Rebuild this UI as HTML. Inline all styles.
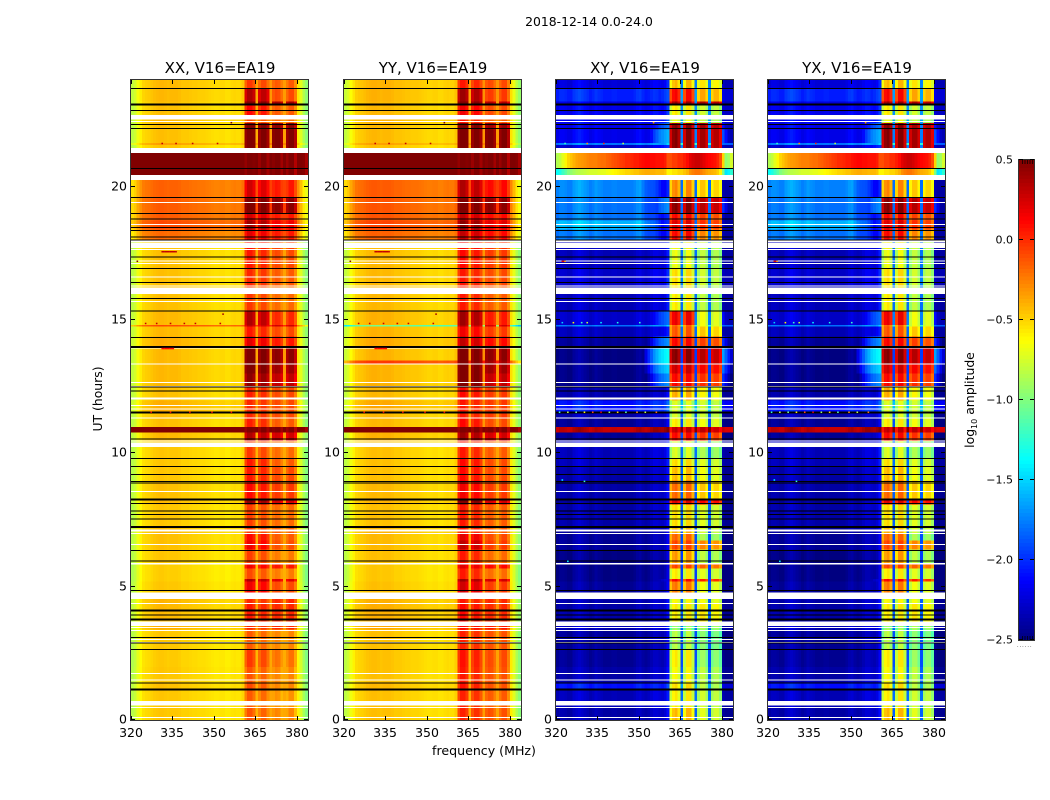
<!DOCTYPE html>
<html lang="en">
<head>
<meta charset="utf-8">
<title>2018-12-14 0.0-24.0</title>
<style>
html,body{margin:0;padding:0;background:#fff;width:1050px;height:800px;overflow:hidden}
svg{display:block}
text{font-family:"DejaVu Sans","Liberation Sans",sans-serif;fill:#000}
</style>
</head>
<body>
<svg id="figure" xmlns="http://www.w3.org/2000/svg" width="1050" height="800" viewBox="0 0 1050 800">
  <text x="589" y="26" text-anchor="middle" font-size="12.4">2018-12-14 0.0-24.0</text>
  <text x="484" y="755" text-anchor="middle" font-size="12.6">frequency (MHz)</text>
  <text x="102" y="399" text-anchor="middle" font-size="12.4" transform="rotate(-90 102 399)">UT (hours)</text>
  <text x="974" y="400" text-anchor="middle" font-size="12.4" transform="rotate(-90 974 400)">log<tspan font-size="8" dy="3">10</tspan><tspan dy="-3"> amplitude</tspan></text>
  <g id="panels"></g>
  <g id="colorbar"></g>
</svg>
<script>
/* ---------- chart data (log10 amplitude) ---------- */
const panelTitles = ["XX, V16=EA19", "YY, V16=EA19", "XY, V16=EA19", "YX, V16=EA19"];
const freqTicks = [320, 335, 350, 365, 380];
const hourTicks = [0, 5, 10, 15, 20];
const colorTicks = [0.5, 0, -0.5, -1, -1.5, -2, -2.5];
const colorTickLabels = ["0.5", "0.0", "\u22120.5", "\u22121.0", "\u22121.5", "\u22122.0", "\u22122.5"];

const segmentStart = [
  0, 0.5, 1.15, 1.4, 2, 2.65, 3.4, 3.7, 4.4, 4.8,
  5.2, 5.3, 5.7, 5.85, 6.4, 6.75, 7, 7.2, 8.1, 8.3,
  9, 9.5, 9.8, 10.5, 10.8, 11, 11.35, 11.55, 12, 12.5,
  13, 13.35, 13.5, 14, 14.4, 14.76, 14.83, 15.35, 16.3, 16.95,
  17.7, 17.95, 18.4, 18.75, 19, 19.6, 20.44, 20.69, 21.27, 21.58,
  21.65, 22.15, 22.4, 22.7, 23.05, 23.2, 23.7
];

const xxLow = [
  -.42,-.42,-.40,-.42,-.43,-.42,-.35,-.38,-.37,-.42,
  -.44,-.44,-.44,-.42,-.40,-.40,-.38,-.42,-.38,-.40,
  -.42,-.42,-.42,-.38,.95,-.40,-.40,-.35,-.40,-.38,
  -.38,-.38,-.38,-.35,-.38,-.05,-.38,-.40,-.40,-.40,
  -.42,-.15,-.05,-.10,-.10,-.12,.95,.95,-.42,-.30,
  -.40,-.40,-.38,-.40,-.40,-.38,-.38
];
const xxHighA = [
  -.18,-.20,-.15,-.18,-.10,-.20,-.05,.00,-.05,.10,
  .30,-.15,.10,-.12,.10,.05,-.10,-.12,.40,.05,
  .00,.00,-.10,.30,.50,-.02,-.05,-.05,-.02,.40,
  .50,.50,.50,.15,.00,.25,.30,-.10,-.05,.00,
  .05,.15,.35,.20,.50,.20,.50,.50,.50,.50,
  .50,.50,-.15,.05,.50,.30,-.10
];
const xxHighB = [
  -.28,-.32,-.28,-.28,-.22,-.28,.00,.00,.00,-.10,
  .20,-.25,.05,-.25,-.12,-.15,-.15,-.20,.25,-.05,
  -.10,-.15,-.20,.25,.50,-.15,-.10,-.10,-.10,.30,
  .40,.45,.45,.05,-.10,.25,.00,-.20,-.15,-.10,
  -.05,.05,.15,.05,.45,.05,.50,.50,.50,.50,
  .50,.45,-.20,-.15,.40,-.10,-.15
];
const yyLow = [
  -.40,-.40,-.38,-.40,-.40,-.40,-.33,-.35,-.35,-.40,
  -.42,-.42,-.42,-.40,-.38,-.38,-.36,-.40,-.36,-.38,
  -.40,-.40,-.40,-.36,.95,-.38,-.38,-.33,-.38,-.36,
  -.36,.00,-.36,-.33,-.36,-1.0,-.36,-.38,-.38,-.38,
  -.40,-.12,-.03,-.08,-.08,-.10,.95,.95,-.40,-.30,
  -.38,-.38,-.36,-.38,-.38,-.36,-.36
];
const yyHighA = [
  -.03,-.03,.02,.00,.02,-.03,.05,.05,.00,.20,
  .35,.00,.15,.00,.25,.15,.00,.00,.50,.10,
  .05,.05,.00,.35,.50,.05,.00,.00,.05,.50,
  .50,.50,.50,.25,.10,.30,.35,.00,.00,.05,
  .10,.25,.40,.25,.50,.30,.50,.50,.50,.50,
  .50,.50,.00,.10,.50,.35,.00
];
const yyHighB = [
  -.12,-.15,-.12,-.12,-.10,-.12,.05,.00,.00,-.05,
  .25,-.20,.10,-.20,-.05,-.10,-.15,-.15,.25,-.05,
  -.10,-.10,-.15,.25,.50,-.10,-.05,-.05,-.05,.30,
  .40,.40,.45,.10,-.05,.25,.05,-.15,-.10,-.05,
  .00,.10,.20,.10,.45,.10,.50,.50,.50,.50,
  .50,.40,-.15,-.10,.35,-.05,-.10
];
const xyLow = [
  -2.4,-2.35,-2.2,-2.4,-2.45,-2.45,-2.35,-2.4,-2.4,-2.45,
  -2.5,-2.5,-2.5,-2.5,-2.45,-2.45,-2.45,-2.4,-2.45,-2.4,
  -2.4,-2.35,-2.35,-2.45,.28,-2.45,-2.4,-2.1,-2.4,-2.5,
  -2.5,-2.5,-2.5,-2.45,-2.35,-1.8,-2.3,-2.35,-2.3,-2.35,
  -2.35,-2.35,-2.35,-2.35,-2.35,-2.35,-.5,0,-2.3,-1.8,
  -2.3,-2.3,-2.2,-2.25,-2.3,-2.2,-2.3
];
const crossLeftLift = [
  0,0,.1,0,0,0,0,0,0,0,
  0,0,0,0,0,0,0,0,0,0,
  0,0,0,0,0,0,0,0,0,0,
  0,0,0,0,0,0,0,0,0,0,
  0,.55,.75,.55,.55,.6,0,0,0,0,
  .1,.1,0,.05,.05,.15,.05
];
const xyHighA = [
  -.45,-.6,-.55,-.65,-.6,-.85,-.95,-.6,-.65,-.25,
  .10,-.6,-.1,-.35,-.1,-.2,-.4,-.55,.2,-.2,
  -.45,-.55,-.75,.1,.28,-.6,-.75,-.75,-.4,.1,
  .25,.45,.45,.1,-.15,-.2,.15,-.6,-.55,-.7,
  -.6,.1,.2,.1,.45,-.3,-.1,-.1,.45,.45,
  .45,.45,-.7,-.6,.4,.1,-.45
];
const xyHighB = [
  -.75,-.8,-.85,-.85,-.95,-1.0,-.9,-.6,-.7,-.7,
  .0,-.75,-.2,-.85,-.3,-.9,-.8,-.75,.1,-.5,
  -.7,-.75,-.9,-.05,.28,-.7,-.8,-.8,-.65,-.05,
  .1,.3,.3,-.1,-.5,-.7,-.7,-.85,-.8,-.85,
  -.8,-.3,-.05,-.1,.3,-.5,-.1,-.1,.35,.35,
  .35,.35,-.85,-.8,.35,-.4,-.6
];
const crossBloom = [
  -2.5,-2.5,-2.5,-2.5,-2.5,-2.5,-2.5,-2.5,-2.5,-2.3,
  -2.2,-2.5,-2.3,-2.5,-2.5,-2.5,-2.5,-2.5,-2.2,-2.3,
  -2.5,-2.5,-2.5,-2.2,-2.5,-2.3,-2.5,-2.5,-2.2,-1.7,
  -1.5,-1.35,-1.35,-1.7,-2.1,-2.0,-1.8,-2.3,-2.5,-2.5,
  -2.5,-2.1,-2.0,-2.0,-1.7,-2.1,-2.5,-2.5,-2.0,-1.7,
  -1.6,-1.8,-2.3,-2.2,-2.0,-1.9,-2.4
];

/* spectral shape per 1 MHz channel, 320..383 MHz */
const channelBand = [
  0,0,0,0,0,0,0,0,0,0, 0,0,0,0,0,0,0,0,0,0,
  0,0,0,0,0,0,0,0,0,0, 0,0,0,0,0,0,0,0,0,0,
  0,1,1,1,1,0,1,1,1,1, 0,2,2,2,2,0,2,2,2,2,
  0,0,0,0
];
const parallelLowShape = [
  -.42,-.37,-.27,-.19,-.12,-.10,-.09,-.07,-.05,-.04,
  -.03,-.03,-.04,-.05,-.04,-.04,-.04,-.05,-.07,-.07,
  -.07,-.08,-.09,-.09,-.10,-.10,-.10,-.11,-.12,-.13,
  -.14,-.14,-.13,-.13,-.15,-.15,-.13,-.12,-.13,-.13,
  -.08,0,0,0,0,.02,0,0,0,0,
  .06,0,0,0,0,.05,0,0,0,0,
  -.17,-.32,-.47,-.57
];
const parallelHighShape = [
  0,0,0,0,0,0,0,0,0,0, 0,0,0,0,0,0,0,0,0,0,
  0,0,0,0,0,0,0,0,0,0, 0,0,0,0,0,0,0,0,0,0,
  0,-.06,.07,.07,-.02,0,-.08,.02,.02,-.1,
  0,-.03,.02,0,-.1,0,-.08,.02,.02,-.15,
  0,0,0,0
];
const crossLowShape = [
  0,.05,.05,.03,0,0,.08,.12,.15,.12,
  .08,.05,0,.03,.08,.05,.03,0,0,0,
  .02,.02,0,0,0,0,0,0,.03,.08,
  .1,.05,.02,.05,.1,.15,.15,.12,.1,.15,
  .3,0,0,0,0,.55,0,0,0,0,
  .55,0,0,0,0,.55,0,0,0,0,
  0,-.05,-.05,-.05
];
const crossLeftWeight = [
  1,1,1,1,1,1,1,1,1,1, 1,1,1,1,1,1,1,1,1,1,
  1,1,1,1,1,1,1,1,1,1,
  1,.9,.8,.7,.6,.5,.4,.3,.2,.1,
  .05,0,0,0,0,0,0,0,0,0,
  0,0,0,0,0,0,0,0,0,0,
  0,0,0,0
];
const crossHighShape = [
  0,0,0,0,0,0,0,0,0,0, 0,0,0,0,0,0,0,0,0,0,
  0,0,0,0,0,0,0,0,0,0, 0,0,0,0,0,0,0,0,0,0,
  0,-.2,0,.05,-.1,0,-.2,.05,.05,-.2,
  0,-.1,.05,.05,-.1,0,-.1,0,0,-.15,
  0,0,0,0
];
const bloomShape = [
  -9,-9,-9,-9,-9,-9,-9,-9,-9,-9, -9,-9,-9,-9,-9,-9,-9,-9,-9,-9,
  -9,-9,-9,-9,-9,-9,-9,-9,-9,-9,
  -1.4,-1.1,-.85,-.65,-.5,-.35,-.25,-.15,-.1,-.05,
  0,-9,-9,-9,-9,-9,-9,-9,-9,-9,
  -9,-9,-9,-9,-9,-9,-9,-9,-9,-9,
  -.3,-.5,-.7,-.9
];
const hotSegmentStarts = [20.44, 20.69];
const hotSpectrum = [
  -.85,-.8,-.7,-.6,-.5,-.45,-.4,-.35,-.33,-.32,
  -.3,-.27,-.25,-.25,-.25,-.22,-.2,-.2,-.17,-.15,
  -.12,-.1,-.08,-.05,-.03,0,0,.02,.05,.05,
  .08,.1,.12,.12,.1,.1,.08,.08,.08,.05,
  -.1,-.1,-.05,-.05,0,0,.05,.1,.2,.25,
  .28,.28,.25,.2,.15,.12,.1,.08,.02,-.1,
  -.5,-.95,-.9,-.75
];

/* flagged integrations */
const blankStart = [
  .08,.45,.55,1.48,1.73,2.89,3.0,3.33,3.45,3.53,4.35,4.54,5.84,6.56,6.98,7.06,8.55,
  10.24,10.45,11.31,11.64,11.78,12.01,12.49,12.64,13.33,13.93,15.68,15.98,16.25,16.6,
  17.1,17.2,17.63,17.7,17.9,18.56,19.39,20.25,21.27,22.42,22.52
];
const blankEnd = [
  .12,.49,.71,1.52,1.77,2.93,3.04,3.37,3.49,3.69,4.39,4.79,5.88,6.6,7.02,7.14,8.59,
  10.4,10.49,11.35,11.68,11.82,12.1,12.53,12.68,13.37,13.97,15.72,16.22,16.29,16.64,
  17.14,17.24,17.67,17.89,18.0,18.6,19.43,20.44,21.45,22.46,22.69
];
const blackRowHours = [
  1.12,1.16,1.38,2.65,2.88,3.1,3.93,4.86,5.97,6.36,7.53,7.7,7.84,8.11,8.88,8.94,9.21,9.51,9.81,
  10.53,12.34,12.49,14.35,15.34,15.81,16.41,16.94,17.37,18.0,18.12,18.36,18.46,18.78,19.0,19.6,
  20.69,22.19,22.34,22.86,23.69
];
const thickRowHours = [3.76, 4.1, 7.23, 8.26, 11.54, 13.99, 23.08];

/* isolated bright samples */
const parallelSpeckleHours = [14.87,14.87,14.87,14.87,14.87,14.87,15.22,13.93,13.93,13.93,13.93,13.93,17.56,17.56,17.56,17.56,17.56,17.56,17.2,22.4,11.54,11.54,11.54,11.54,11.54,21.62,21.62,21.62,21.62];
const parallelSpeckleFreqs = [325,329,334,339,343,352,353,331,332,333,334,335,331,332,333,334,335,336,322,356,327,334,341,349,356,331,336,342,351];
const parallelSpeckleValues = [.3,.3,.3,.3,.3,.3,.4,.1,.1,.1,.1,.1,.3,.3,.3,.3,.3,.3,.5,.5,.2,.2,.2,.2,.2,.3,.3,.3,.3];
const crossSpeckleHours = [11.54,11.54,11.54,11.54,11.54,11.54,11.54,11.54,11.54,11.54,11.54,11.54,14.9,14.9,14.9,14.9,14.9,14.9,14.9,17.2,17.2,22.4,21.62,21.62,21.62,21.62,9.0,8.95,5.95];
const crossSpeckleFreqs = [321,324,327,330,333,336,339,342,345,349,352,356,322,326,329,331,336,342,350,322,323,355,323,331,337,344,322,330,324];
const crossSpeckleValues = [-1.2,-.8,-1.0,-.6,-.1,.2,-.9,-.5,-1.1,-.3,-.8,-.2,-1.5,-.6,-1.2,-.8,-1.4,-1.3,-1.2,.2,-.4,-.3,-1.2,-.3,0,-.8,-1.4,-1.2,-1.4];

const panelSeries = [
  {low: xxLow, a: xxHighA, b: xxHighB, lowShape: parallelLowShape, highShape: parallelHighShape, cross: false, name: "xx"},
  {low: yyLow, a: yyHighA, b: yyHighB, lowShape: parallelLowShape, highShape: parallelHighShape, cross: false, name: "yy"},
  {low: xyLow, a: xyHighA, b: xyHighB, lowShape: crossLowShape, highShape: crossHighShape, cross: true, name: "xy"},
  {low: xyLow, a: xyHighA, b: xyHighB, lowShape: crossLowShape, highShape: crossHighShape, cross: true, name: "yx"}
];

/* ---------- layout and scales ---------- */
const NS = "http://www.w3.org/2000/svg";
const panelLeft = [131, 344, 556, 768];
const panelWidth = 177, plotTop = 80, plotBottom = 720;
const freqMin = 320, freqMax = 384, hourMax = 24, valueMin = -2.5, valueMax = 0.5;
const cbLeft = 1019, cbRight = 1034, cbTop = 160, cbBottom = 640;

function xScale(p, f) { return panelLeft[p] + (f - freqMin) / (freqMax - freqMin) * panelWidth; }
function yScale(h) { return plotBottom - h / hourMax * (plotBottom - plotTop); }
function cbScale(v) { return cbBottom - (v - valueMin) / (valueMax - valueMin) * (cbBottom - cbTop); }
function clip01(t) { return Math.max(0, Math.min(1, t)); }
function jet(v) {
  const n = clip01((v - valueMin) / (valueMax - valueMin));
  const r = clip01(1.5 - Math.abs(4 * n - 3));
  const g = clip01(1.5 - Math.abs(4 * n - 2));
  const b = clip01(1.5 - Math.abs(4 * n - 1));
  return "rgb(" + Math.round(r * 255) + "," + Math.round(g * 255) + "," + Math.round(b * 255) + ")";
}
function mk(tag, parent, geom) {
  const el = document.createElementNS(NS, tag);
  for (const k in geom) el.setAttribute(k, geom[k]);
  parent.appendChild(el);
  return el;
}
function cellValue(series, s, i) {
  if (series.cross && hotSegmentStarts.includes(segmentStart[s])) return series.low[s] + hotSpectrum[i];
  const band = channelBand[i];
  let v;
  if (band === 1) v = series.a[s] + series.highShape[i];
  else if (band === 2) v = series.b[s] + series.highShape[i];
  else {
    v = series.low[s] + series.lowShape[i];
    if (series.cross) v += crossLeftLift[s] * crossLeftWeight[i];
  }
  if (series.cross) v = Math.max(v, crossBloom[s] + bloomShape[i]);
  return v;
}

/* ---------- panels ---------- */
const panelsRoot = document.getElementById("panels");
panelSeries.forEach(function (series, p) {
  const g = mk("g", panelsRoot, {});
  
  

  const cells = mk("g", g, {"shape-rendering": "crispEdges"});
  
  
  const nChan = freqMax - freqMin;
  for (let s = 0; s < segmentStart.length; s++) {
    const h0 = segmentStart[s];
    const h1 = s + 1 < segmentStart.length ? segmentStart[s + 1] : hourMax;
    for (let i = 0; i < nChan; i++) {
      const x0 = xScale(p, freqMin + i), x1 = xScale(p, freqMin + i + 1);
      const cell = mk("rect", cells, {x: x0, y: yScale(h1), width: x1 - x0 + 0.3, height: yScale(h0) - yScale(h1) + 0.3, fill: jet(cellValue(series, s, i))});
      
      
    }
  }

  const flags = mk("g", g, {"shape-rendering": "crispEdges"});
  
  
  blankStart.forEach(function (h0, k) {
    const r = mk("rect", flags, {x: panelLeft[p], y: yScale(blankEnd[k]), width: panelWidth, height: yScale(h0) - yScale(blankEnd[k]), fill: "#fff"});
    
    
  });
  blackRowHours.forEach(function (h) {
    const r = mk("rect", flags, {x: panelLeft[p], y: yScale(h) - 0.5, width: panelWidth, height: 1, fill: "#000"});
    
    
  });
  thickRowHours.forEach(function (h) {
    const r = mk("rect", flags, {x: panelLeft[p], y: yScale(h) - 1, width: panelWidth, height: 2, fill: "#000"});
    
    
  });

  const spHours = series.cross ? crossSpeckleHours : parallelSpeckleHours;
  const spFreqs = series.cross ? crossSpeckleFreqs : parallelSpeckleFreqs;
  const spVals = series.cross ? crossSpeckleValues : parallelSpeckleValues;
  spHours.forEach(function (h, k) {
    const joined = spHours[k + 1] === h && spFreqs[k + 1] === spFreqs[k] + 1;
    const r = mk("rect", g, {x: xScale(p, spFreqs[k]), y: yScale(h) - 0.75, width: joined ? 2.9 : 1.6, height: 1.5, fill: jet(spVals[k])});
    
    
  });

  const frame = mk("rect", g, {x: panelLeft[p] - 0.5, y: plotTop - 0.5, width: panelWidth + 1, height: plotBottom - plotTop + 1, fill: "none", stroke: "#333", "stroke-width": 1});
  
  

  freqTicks.forEach(function (f) {
    const x = Math.round(xScale(p, f)) + 0.5;
    const t1 = mk("line", g, {x1: x, x2: x, y1: plotBottom, y2: plotBottom - 4, stroke: "#000"});
    
    
    const t2 = mk("line", g, {x1: x, x2: x, y1: plotTop, y2: plotTop + 4, stroke: "#000"});
    
    
    const lab = mk("text", g, {x: x - 0.5, y: 737, "text-anchor": "middle", "font-size": 12.5});
    lab.textContent = String(f);
    
    
  });
  hourTicks.forEach(function (h) {
    const y = Math.round(yScale(h)) - 0.5;
    const t1 = mk("line", g, {x1: panelLeft[p], x2: panelLeft[p] + 4, y1: y, y2: y, stroke: "#000"});
    
    
    const t2 = mk("line", g, {x1: panelLeft[p] + panelWidth, x2: panelLeft[p] + panelWidth - 4, y1: y, y2: y, stroke: "#000"});
    
    
    const lab = mk("text", g, {x: panelLeft[p] - 4, y: y + 4, "text-anchor": "end", "font-size": 12.5});
    lab.textContent = String(h);
    
    
  });

  const title = mk("text", g, {x: panelLeft[p] + panelWidth / 2 + 0.5, y: 73, "text-anchor": "middle", "font-size": 15});
  title.textContent = panelTitles[p];
  
  
});

/* ---------- colorbar ---------- */
const cb = document.getElementById("colorbar");
const cbSteps = 128;
for (let k = 0; k < cbSteps; k++) {
  const v0 = valueMin + (valueMax - valueMin) * k / cbSteps;
  const v1 = valueMin + (valueMax - valueMin) * (k + 1) / cbSteps;
  const r = mk("rect", cb, {x: cbLeft, y: cbScale(v1), width: cbRight - cbLeft, height: cbScale(v0) - cbScale(v1) + 0.4, fill: jet((v0 + v1) / 2), "shape-rendering": "crispEdges"});
  
  
}
const cbFrame = mk("rect", cb, {x: cbLeft - 0.5, y: cbTop - 0.5, width: cbRight - cbLeft + 1, height: cbBottom - cbTop + 1, fill: "none", stroke: "#333", "stroke-width": 1});


colorTicks.forEach(function (v, k) {
  const y = Math.round(cbScale(v)) - 0.5;
  const t1 = mk("line", cb, {x1: cbLeft, x2: cbLeft + 4, y1: y, y2: y, stroke: "#000"});
  
  
  const t2 = mk("line", cb, {x1: cbRight, x2: cbRight - 4, y1: y, y2: y, stroke: "#000"});
  
  
  const lab = mk("text", cb, {x: 1013, y: y + 4, "text-anchor": "end", "font-size": 11});
  lab.textContent = colorTickLabels[k];
  
  
});
for (let k = 0; k < 5; k++) {
  const x = cbLeft + 3.5 + k * 2.5;
  const c1 = mk("line", cb, {x1: x, x2: x, y1: cbTop, y2: cbTop + 4, stroke: "#000", "stroke-width": 0.7});
  
  
  const c2 = mk("line", cb, {x1: x, x2: x, y1: cbBottom, y2: cbBottom - 4, stroke: "#000", "stroke-width": 0.7});
  
  
}
const dots = mk("text", cb, {x: 1017, y: 647, "font-size": 5, fill: "#888", "letter-spacing": "1px"});
dots.textContent = "......";


</script>
</body>
</html>
